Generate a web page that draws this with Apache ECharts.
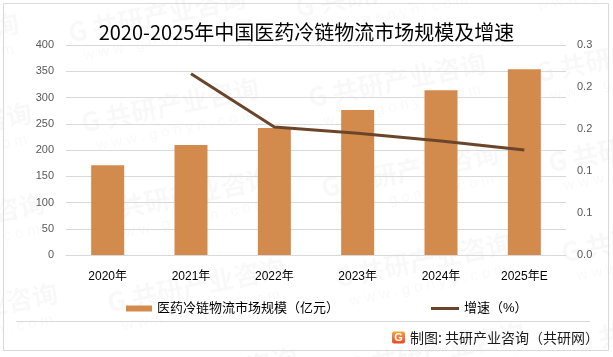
<!DOCTYPE html>
<html>
<head>
<meta charset="utf-8">
<script src="https://cdn.jsdelivr.net/npm/echarts@6/dist/echarts.min.js"></script>
<style>
html,body{margin:0;padding:0;background:#fff;}
#main{width:613px;height:357px;}
</style>
</head>
<body>
<div id="main"></div>
<script>
const categories = ['2020年','2021年','2022年','2023年','2024年','2025年E'];
const marketSize = [171, 209.5, 242, 276, 314, 354];
const growthRate = [null, 0.259, 0.183, 0.174, 0.163, 0.150];
const leftTicks = {min: 0, max: 400, interval: 50};
const rightTicks = {min: 0, max: 0.3, interval: 0.06};
const barName = '医药冷链物流市场规模（亿元）';
const lineName = '增速（%）';

const FONT = '"Liberation Sans", "Noto Sans CJK SC", sans-serif';
const chart = echarts.init(document.getElementById('main'), null, {renderer: 'canvas'});

// watermark tiles (decoration)
const wm = [];
const A = [397, 80], U = [-227, 25], V = [13, 90];
for (let m = -2; m <= 2; m++) {
  for (let n = -2; n <= 3; n++) {
    const cx = A[0] + m * U[0] + n * V[0];
    const cy = A[1] + m * U[1] + n * V[1];
    if (cx < -120 || cx > 740 || cy < -60 || cy > 420) continue;
    wm.push({
      type: 'group', x: cx, y: cy, rotation: 0.2, z: 0, silent: true,
      children: [
        {type: 'text', style: {text: 'G 共研产业咨询', x: 0, y: 0, align: 'center', verticalAlign: 'middle',
          font: 'bold 26px "Noto Sans CJK SC"', fill: 'rgba(0,0,0,0.028)'}},
        {type: 'text', style: {text: 'w w w . g o n y n . c o m', x: 0, y: 26, align: 'center', verticalAlign: 'middle',
          font: '15px "Liberation Sans"', fill: 'rgba(0,0,0,0.028)'}}
      ]
    });
  }
}

const option = {
  backgroundColor: '#fff',
  animation: false,
  title: {
    text: '2020-2025年中国医药冷链物流市场规模及增速',
    left: 'center', top: 17,
    textStyle: {fontFamily: '"Noto Sans CJK SC"', fontSize: 20, fontWeight: 'normal', color: '#000'}
  },
  grid: {left: 66, right: 47, top: 45, bottom: 102, containLabel: false},
  legend: [
    {
      data: [{name: barName, icon: 'rect'}],
      left: 121, top: 297, itemWidth: 26, itemHeight: 6,
      textStyle: {fontFamily: FONT, fontSize: 13, color: '#000'}
    },
    {
      data: [{name: lineName, icon: 'rect'}],
      left: 426, top: 297, itemWidth: 28, itemHeight: 3,
      textStyle: {fontFamily: FONT, fontSize: 13, color: '#000'}
    }
  ],
  xAxis: {
    type: 'category', data: categories,
    axisLine: {lineStyle: {color: '#d9d9d9'}},
    axisTick: {show: false},
    axisLabel: {margin: 16, fontFamily: FONT, fontSize: 12, color: '#000'}
  },
  yAxis: [
    {
      type: 'value', min: leftTicks.min, max: leftTicks.max, interval: leftTicks.interval,
      axisLine: {show: false}, axisTick: {show: false},
      axisLabel: {margin: 12, fontFamily: FONT, fontSize: 11, color: '#595959'},
      splitLine: {lineStyle: {color: '#d9d9d9', width: 1}}
    },
    {
      type: 'value', min: rightTicks.min, max: rightTicks.max, interval: rightTicks.interval,
      axisLine: {show: false}, axisTick: {show: false},
      axisLabel: {margin: 11, fontFamily: FONT, fontSize: 11, color: '#595959',
        formatter: v => v.toFixed(1)},
      splitLine: {show: false}
    }
  ],
  series: [
    {
      name: barName, type: 'bar', data: marketSize, barWidth: 33,
      itemStyle: {color: '#d38b4d'}, z: 2
    },
    {
      name: lineName, type: 'line', yAxisIndex: 1, data: growthRate,
      symbol: 'none', connectNulls: false,
      lineStyle: {color: '#6b4529', width: 3},
      itemStyle: {color: '#6b4529'}, z: 3
    }
  ],
  graphic: [
    ...wm,
    {type: 'rect', silent: true, z: 1, shape: {x: 3.5, y: 3.5, width: 605, height: 347},
      style: {fill: null, stroke: '#d9d9d9', lineWidth: 1}},
    {type: 'line', silent: true, z: 1, shape: {x1: 16, y1: 321.5, x2: 590, y2: 321.5},
      style: {stroke: '#d9d9d9', lineWidth: 1}},
    {type: 'rect', z: 5, shape: {x: 392, y: 331.5, width: 13, height: 12, r: 2},
      style: {fill: new echarts.graphic.LinearGradient(0, 0, 0, 1, [
        {offset: 0, color: '#f7a53a'}, {offset: 1, color: '#e9482b'}])}},
    {type: 'text', z: 6, style: {text: 'G', x: 398.5, y: 338, align: 'center', verticalAlign: 'middle',
      font: 'bold 11px "Liberation Sans"', fill: '#fff'}},
    {type: 'text', z: 6, style: {text: '制图: 共研产业咨询（共研网）', x: 410, y: 338, align: 'left', verticalAlign: 'middle',
      font: '14px "Noto Sans CJK SC"', fill: '#1a1a1a'}}
  ]
};
chart.setOption(option);
</script>
</body>
</html>
